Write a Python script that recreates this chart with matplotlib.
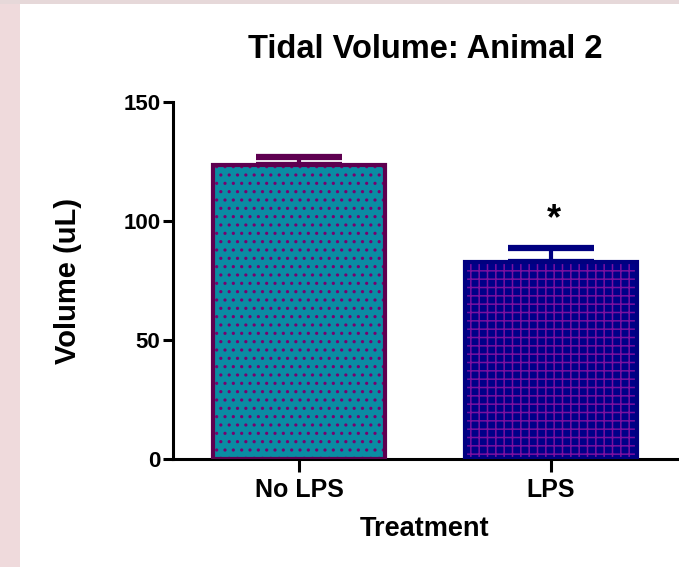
import matplotlib
matplotlib.use('Agg')
import matplotlib.pyplot as plt
from matplotlib.patches import Rectangle

# data
categories = ['No LPS', 'LPS']
means = [123.5, 82.8]
errors = [3.5, 6.0]
significant = [False, True]

# colors
fill_colors = ['#0a8ca3', '#000088']
hatch_colors = ['#7a0070', '#7a10a0']
edge_colors = ['#5e0050', '#000080']
hatches = ['..', '++']

plt.rcParams['font.family'] = ['Liberation Sans', 'DejaVu Sans']
plt.rcParams['font.weight'] = 'bold'
plt.rcParams['hatch.linewidth'] = 1.1

fig = plt.figure(figsize=(6.79, 5.67), dpi=100)
fig.patch.set_facecolor('white')

# pinkish window frame at left and top
fig.patches.append(Rectangle((0, 0), 20 / 679, 1, transform=fig.transFigure,
                             facecolor='#efdadc', edgecolor='none', zorder=0))
fig.patches.append(Rectangle((0, 1 - 4 / 567), 1, 4 / 567, transform=fig.transFigure,
                             facecolor='#e6d8d9', edgecolor='none', zorder=0))

ax = fig.add_axes([173 / 679, 108 / 567, 504 / 679, 357 / 567])
x = list(range(len(categories)))

# hatched fill first, then the thick outline on top
for i in x:
    ax.bar(i, means[i], width=0.68, color=fill_colors[i], edgecolor=hatch_colors[i],
           hatch=hatches[i], linewidth=0, zorder=2)
    ax.bar(i, means[i], width=0.68, fill=False, edgecolor=edge_colors[i],
           linewidth=3, zorder=3)
    ax.errorbar(i, means[i], yerr=[[0], [errors[i]]], fmt='none', ecolor=edge_colors[i],
                elinewidth=3, capsize=31, capthick=4.5, zorder=1)
    if significant[i]:
        ax.text(i + 0.01, means[i] + errors[i] + 4.5, '*', ha='center', va='bottom',
                fontsize=26, fontweight='bold')

ax.set_xlim(-0.5, 1.5)
ax.set_ylim(0, 150)
ax.set_yticks([0, 50, 100, 150])
ax.set_xticks(x)
ax.set_xticklabels(categories)

for side in ['top', 'right']:
    ax.spines[side].set_visible(False)
for side in ['left', 'bottom']:
    ax.spines[side].set_linewidth(2.2)
ax.tick_params(axis='y', direction='out', length=7, width=2.2, labelsize=16, pad=2)
ax.tick_params(axis='x', direction='out', length=9, width=2.2, labelsize=18, pad=5)
for lab in ax.get_xticklabels() + ax.get_yticklabels():
    lab.set_fontweight('bold')

ax.set_title('Tidal Volume: Animal 2', fontsize=23.5, fontweight='bold', pad=32)
ax.set_xlabel('Treatment', fontsize=19.5, fontweight='bold', labelpad=10)
ax.set_ylabel('Volume (uL)', fontsize=21, fontweight='bold', labelpad=30)

fig.savefig('out.png', dpi=100)
